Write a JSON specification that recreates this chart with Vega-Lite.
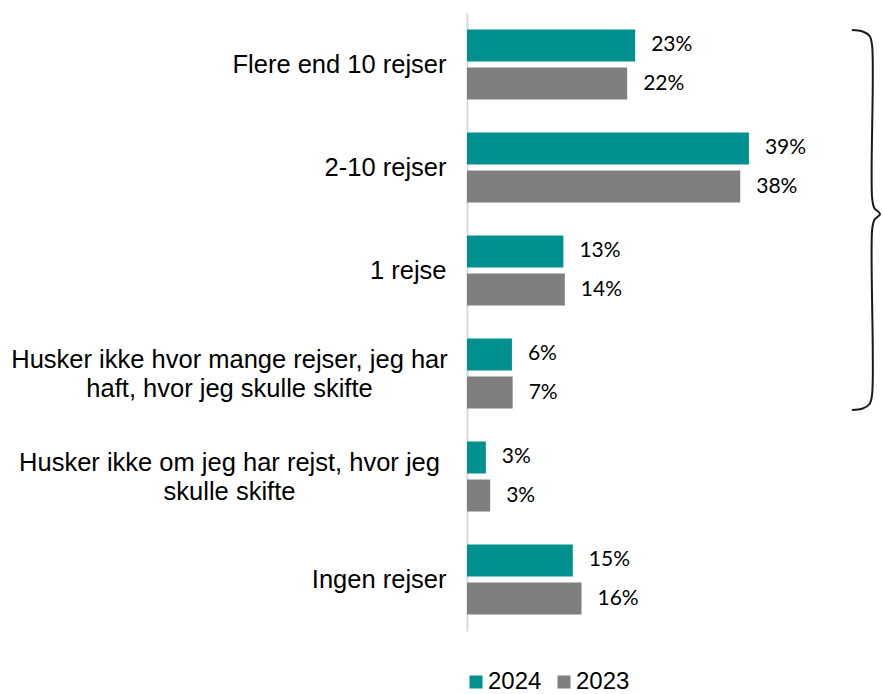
{
  "$schema": "https://vega.github.io/schema/vega-lite/v6.json",
  "autosize": {"type": "none"},
  "padding": {"left": 467, "top": 13, "right": 0, "bottom": 63},
  "width": 416,
  "height": 618,
  "background": "white",
  "config": {"view": {"stroke": null}},
  "data": {
    "values": [
      {"kategori": "Flere end 10 rejser", "aar": "2024", "andel": 23.2, "tekst": "23%"},
      {"kategori": "Flere end 10 rejser", "aar": "2023", "andel": 22.1, "tekst": "22%"},
      {"kategori": "2-10 rejser", "aar": "2024", "andel": 38.9, "tekst": "39%"},
      {"kategori": "2-10 rejser", "aar": "2023", "andel": 37.7, "tekst": "38%"},
      {"kategori": "1 rejse", "aar": "2024", "andel": 13.3, "tekst": "13%"},
      {"kategori": "1 rejse", "aar": "2023", "andel": 13.5, "tekst": "14%"},
      {"kategori": "Husker ikke hvor mange rejser, jeg har haft, hvor jeg skulle skifte", "aar": "2024", "andel": 6.2, "tekst": "6%"},
      {"kategori": "Husker ikke hvor mange rejser, jeg har haft, hvor jeg skulle skifte", "aar": "2023", "andel": 6.3, "tekst": "7%"},
      {"kategori": "Husker ikke om jeg har rejst, hvor jeg skulle skifte", "aar": "2024", "andel": 2.6, "tekst": "3%"},
      {"kategori": "Husker ikke om jeg har rejst, hvor jeg skulle skifte", "aar": "2023", "andel": 3.2, "tekst": "3%"},
      {"kategori": "Ingen rejser", "aar": "2024", "andel": 14.6, "tekst": "15%"},
      {"kategori": "Ingen rejser", "aar": "2023", "andel": 15.8, "tekst": "16%"}
    ]
  },
  "resolve": {"scale": {"y": "independent"}, "axis": {"y": "independent"}},
  "layer": [
    {
      "encoding": {
        "y": {
          "field": "kategori", "type": "nominal", "sort": null,
          "scale": {"paddingInner": 0.32, "paddingOuter": 0.16},
          "axis": {
            "title": null, "ticks": false,
            "domainColor": "#D9D9D9", "domainWidth": 2,
            "labelFont": "Liberation Sans", "labelFontSize": 25.5, "labelColor": "#000000",
            "labelLimit": 600, "labelLineHeight": 29.5,
            "labelAlign": {"condition": {"test": "length(datum.value) > 30", "value": "center"}, "value": "right"},
            "labelPadding": {"condition": {"test": "length(datum.value) > 30", "value": 238}, "value": 21},
            "labelOffset": {"condition": {"test": "length(datum.value) > 30", "value": -14}, "value": 0},
            "labelExpr": "datum.label == 'Husker ikke hvor mange rejser, jeg har haft, hvor jeg skulle skifte' ? ['Husker ikke hvor mange rejser, jeg har', 'haft, hvor jeg skulle skifte'] : datum.label == 'Husker ikke om jeg har rejst, hvor jeg skulle skifte' ? ['Husker ikke om jeg har rejst, hvor jeg', 'skulle skifte'] : datum.label"
          }
        },
        "yOffset": {"field": "aar", "type": "nominal", "sort": ["2024", "2023"], "scale": {"paddingInner": 0.158}},
        "x": {"field": "andel", "type": "quantitative", "scale": {"domain": [0, 57.4], "nice": false}, "axis": null}
      },
      "layer": [
        {
          "mark": {"type": "bar"},
          "encoding": {
            "color": {
              "field": "aar", "type": "nominal",
              "scale": {"domain": ["2024", "2023"], "range": ["#00918E", "#7F7F7F"]},
              "legend": {
                "title": null, "orient": "none", "direction": "horizontal",
                "legendX": -3, "legendY": 657,
                "symbolType": "square", "symbolSize": 169, "symbolStrokeWidth": 0,
                "labelFont": "Liberation Sans", "labelFontSize": 24, "labelColor": "#000000",
                "labelOffset": 0, "columnPadding": 10
              }
            }
          }
        },
        {
          "mark": {"type": "text", "align": "left", "baseline": "middle", "dx": 16, "font": "Lato", "fontSize": 21, "color": "#000000"},
          "encoding": {
            "text": {"field": "tekst"}
          }
        }
      ]
    },
    {
      "data": {
        "values": [
          {"i": 1, "bx": 53.10, "by": 0.165},
          {"i": 2, "bx": 54.60, "by": 0.180},
          {"i": 3, "bx": 55.55, "by": 0.223},
          {"i": 4, "bx": 55.90, "by": 0.320},
          {"i": 5, "bx": 55.90, "by": 1.796},
          {"i": 6, "bx": 56.20, "by": 1.893},
          {"i": 7, "bx": 57.00, "by": 1.951},
          {"i": 8, "bx": 56.20, "by": 2.010},
          {"i": 9, "bx": 55.90, "by": 2.107},
          {"i": 10, "bx": 55.90, "by": 3.699},
          {"i": 11, "bx": 55.55, "by": 3.796},
          {"i": 12, "bx": 54.60, "by": 3.840},
          {"i": 13, "bx": 53.10, "by": 3.854}
        ]
      },
      "mark": {"type": "line", "interpolate": "catmull-rom", "color": "#1A1A1A", "strokeWidth": 2},
      "encoding": {
        "x": {"field": "bx", "type": "quantitative"},
        "y": {"field": "by", "type": "quantitative", "scale": {"domain": [0, 6], "reverse": true, "nice": false, "zero": false}, "axis": null},
        "order": {"field": "i", "type": "quantitative"}
      }
    }
  ]
}
